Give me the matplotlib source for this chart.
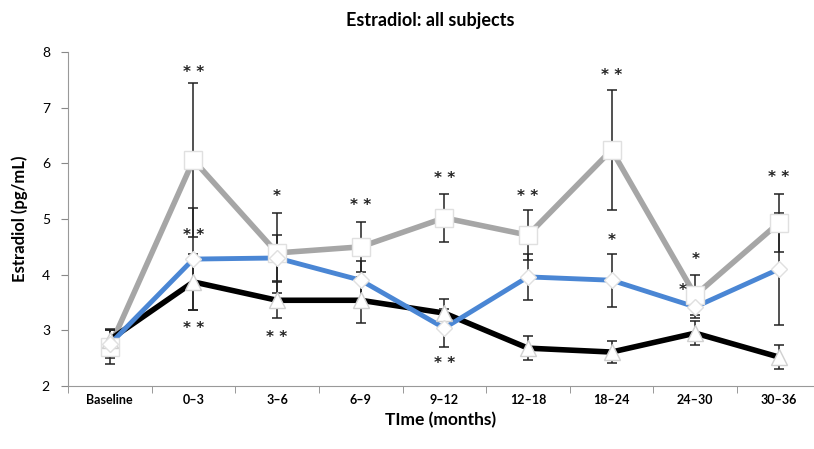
import matplotlib
matplotlib.use('Agg')
import matplotlib.pyplot as plt
import numpy as np

plt.rcParams['font.family'] = ['Lato', 'DejaVu Sans']

# categories
periods = ['Baseline', '0\u20133', '3\u20136', '6\u20139', '9\u201312', '12\u201318', '18\u201324', '24\u201330', '30\u201336']

# series values (pg/mL) and error bars
gray_vals = [2.70, 6.06, 4.39, 4.50, 5.02, 4.71, 6.24, 3.63, 4.93]
gray_err = [0.30, 1.38, 0.72, 0.45, 0.43, 0.45, 1.07, 0.36, 0.52]
blue_vals = [2.75, 4.28, 4.30, 3.90, 3.04, 3.96, 3.90, 3.42, 4.10]
blue_err = [0.25, 0.92, 0.42, 0.35, 0.34, 0.42, 0.48, 0.20, 1.00]
black_vals = [2.83, 3.87, 3.54, 3.54, 3.31, 2.68, 2.61, 2.95, 2.52]
black_err = [0.20, 0.50, 0.32, 0.41, 0.25, 0.22, 0.20, 0.22, 0.22]

# significance marks: (category index, y value, label)
stars = [(1, 7.64, '**'), (1, 4.70, '**'), (1, 3.04, '**'),
         (2, 5.40, '*'), (2, 2.88, '**'),
         (3, 5.24, '**'),
         (4, 5.72, '**'), (4, 2.40, '**'),
         (5, 5.40, '**'),
         (6, 7.58, '**'), (6, 4.62, '*'),
         (7, 4.27, '*'), (6.85, 3.71, '*'),
         (8, 5.74, '**')]

x = np.arange(len(periods))

fig = plt.figure(figsize=(8.14, 4.49), dpi=100)
fig.patch.set_facecolor('white')
ax = fig.add_axes([0.0835, 0.1403, 0.9165, 0.7439])

ebkw = dict(fmt='none', ecolor='#222222', elinewidth=1.1, capsize=3.5, capthick=1.1, zorder=5)

# lines
ax.plot(x, gray_vals, color='#A6A6A6', lw=4, zorder=2)
ax.plot(x, black_vals, color='black', lw=4, zorder=3)
ax.plot(x, blue_vals, color='#4A86D4', lw=3.5, zorder=4)

# error bars
ax.errorbar(x, gray_vals, yerr=gray_err, **ebkw)
ax.errorbar(x, blue_vals, yerr=blue_err, **ebkw)
ax.errorbar(x, black_vals, yerr=black_err, **ebkw)

# markers
ax.plot(x, gray_vals, 's', ms=13, mfc='white', mec='#E0E0E0', mew=1, zorder=6)
ax.plot(x, blue_vals, 'D', ms=8, mfc='white', mec='#E0E0E0', mew=1, zorder=7)
ax.plot(x, black_vals, '^', ms=11, mfc='white', mec='#D0D0D0', mew=1, zorder=6)

for xi, yi, s in stars:
    ax.text(xi, yi, ' '.join(s), ha='center', va='center', fontsize=11, color='#222222',
            family='DejaVu Sans', fontweight='bold', zorder=8)

ax.set_xlim(-0.5, 8.42)
ax.set_ylim(2, 8)
ax.set_yticks(range(2, 9))
ax.set_xticks(x)
ax.set_xticklabels(periods, fontsize=9, fontweight='bold')
ax.set_xticks(np.arange(-0.5, 8.5, 1), minor=True)
ax.tick_params(axis='x', which='major', length=0, pad=6)
ax.tick_params(axis='x', which='minor', length=5, color='#888888', direction='out')
ax.tick_params(axis='y', length=5, color='#888888', labelsize=10, pad=8)

for side in ['top', 'right']:
    ax.spines[side].set_visible(False)
for side in ['left', 'bottom']:
    ax.spines[side].set_color('#999999')

ax.set_ylabel('Estradiol (pg/mL)', fontsize=12, fontweight='bold', labelpad=10)
ax.set_xlabel('TIme (months)', fontsize=12.5, fontweight='bold', labelpad=4)
fig.text(0.528, 0.955, 'Estradiol: all subjects', ha='center', va='center',
         fontsize=13, fontweight='bold')

fig.savefig('out.png', dpi=100)
